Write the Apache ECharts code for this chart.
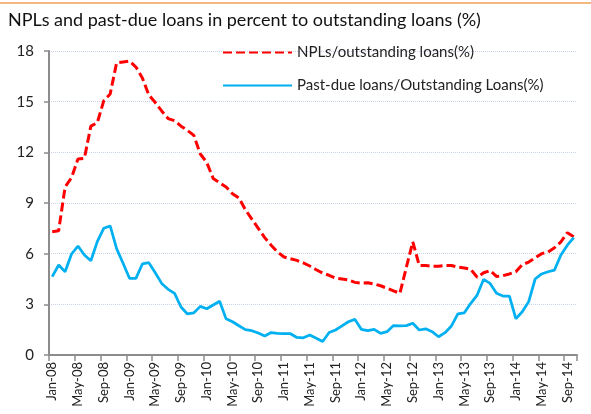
<!DOCTYPE html>
<html>
<head>
<meta charset="utf-8">
<script src="https://cdn.jsdelivr.net/npm/echarts@6/dist/echarts.min.js"></script>
<style>
html,body{margin:0;padding:0;background:#fff;}
#chart{width:591px;height:414px;}
</style>
</head>
<body>
<div id="chart"></div>
<script>
var titleText = 'NPLs and past-due loans in percent to outstanding loans (%)';
var categories = [
 'Jan-08','Feb-08','Mar-08','Apr-08','May-08','Jun-08','Jul-08','Aug-08','Sep-08','Oct-08','Nov-08','Dec-08',
 'Jan-09','Feb-09','Mar-09','Apr-09','May-09','Jun-09','Jul-09','Aug-09','Sep-09','Oct-09','Nov-09','Dec-09',
 'Jan-10','Feb-10','Mar-10','Apr-10','May-10','Jun-10','Jul-10','Aug-10','Sep-10','Oct-10','Nov-10','Dec-10',
 'Jan-11','Feb-11','Mar-11','Apr-11','May-11','Jun-11','Jul-11','Aug-11','Sep-11','Oct-11','Nov-11','Dec-11',
 'Jan-12','Feb-12','Mar-12','Apr-12','May-12','Jun-12','Jul-12','Aug-12','Sep-12','Oct-12','Nov-12','Dec-12',
 'Jan-13','Feb-13','Mar-13','Apr-13','May-13','Jun-13','Jul-13','Aug-13','Sep-13','Oct-13','Nov-13','Dec-13',
 'Jan-14','Feb-14','Mar-14','Apr-14','May-14','Jun-14','Jul-14','Aug-14','Sep-14','Oct-14'
];
var nplName = 'NPLs/outstanding loans(%)';
var nplValues = [
 7.3,7.36,9.95,10.5,11.6,11.65,13.55,13.75,15.05,15.45,17.3,17.35,
 17.4,17.05,16.4,15.4,14.95,14.45,14.0,13.87,13.55,13.3,13.0,11.9,
 11.4,10.45,10.2,9.95,9.55,9.3,8.6,8.05,7.5,6.95,6.5,6.1,
 5.8,5.7,5.6,5.45,5.27,5.05,4.85,4.72,4.55,4.5,4.44,4.3,
 4.26,4.28,4.2,4.1,3.95,3.8,3.65,5.2,6.7,5.3,5.3,5.25,
 5.25,5.3,5.3,5.2,5.15,5.07,4.6,4.87,5.0,4.65,4.7,4.8,
 4.93,5.35,5.5,5.75,6.0,6.1,6.35,6.7,7.24,7.0
];
var pastDueName = 'Past-due loans/Outstanding Loans(%)';
var pastDueValues = [
 4.64,5.33,4.93,5.98,6.45,5.92,5.58,6.71,7.5,7.64,6.3,5.43,
 4.54,4.54,5.39,5.47,4.87,4.24,3.89,3.65,2.84,2.43,2.5,2.88,
 2.74,2.96,3.18,2.14,1.97,1.73,1.5,1.44,1.3,1.13,1.33,1.28,
 1.26,1.26,1.04,1.02,1.18,0.99,0.8,1.33,1.48,1.72,1.97,2.11,
 1.52,1.44,1.52,1.28,1.38,1.74,1.72,1.74,1.88,1.48,1.55,1.38,
 1.08,1.32,1.72,2.43,2.5,3.06,3.55,4.48,4.24,3.65,3.49,3.49,
 2.15,2.56,3.16,4.5,4.8,4.93,5.03,5.92,6.5,6.95
];

var FONT = 'Lato';
var chart = echarts.init(document.getElementById('chart'), null, {renderer:'canvas'});
chart.setOption({
  animation: false,
  backgroundColor: '#ffffff',
  title: {
    text: titleText,
    left: 3, top: 6,
    textStyle: {fontFamily: FONT, fontSize: 18, fontWeight: 'normal', color: '#111'}
  },
  graphic: [
    {type:'line', shape:{x1:0,y1:3,x2:591,y2:3}, style:{stroke:'#f0a050', lineWidth:1.5}, silent:true}
  ],
  legend: {
    orient: 'vertical',
    left: 217, top: 40,
    itemWidth: 69, itemHeight: 16, itemGap: 18,
    itemStyle: {opacity: 0},
    textStyle: {fontFamily: FONT, fontSize: 15, color: '#222'},
    data: [nplName, pastDueName]
  },
  grid: {left: 49, right: 14, top: 51, bottom: 59, containLabel: false},
  xAxis: {
    type: 'category',
    data: categories,
    boundaryGap: true,
    axisLine: {lineStyle: {color: '#8c8c8c', width: 2}},
    axisTick: {show: true, interval: 3, length: 6, lineStyle: {color: '#8c8c8c', width: 1.5}},
    axisLabel: {interval: 3, rotate: 90, margin: 7, fontFamily: FONT, fontSize: 13, color: '#222'},
    splitLine: {show: false}
  },
  yAxis: {
    type: 'value',
    min: 0, max: 18, interval: 3,
    axisLine: {show: true, lineStyle: {color: '#8c8c8c', width: 2}},
    axisTick: {show: true, length: 5, lineStyle: {color: '#8c8c8c', width: 1.5}},
    axisLabel: {margin: 15, fontFamily: FONT, fontSize: 15, color: '#222'},
    splitLine: {show: true, lineStyle: {color: '#c8d4e6', type: 'dotted', width: 1}}
  },
  series: [
    {
      name: nplName, type: 'line', data: nplValues,
      symbol: 'none', smooth: false,
      lineStyle: {color: '#ff0000', width: 3, type: [9, 4]},
      itemStyle: {color: '#ff0000'}
    },
    {
      name: pastDueName, type: 'line', data: pastDueValues,
      symbol: 'none', smooth: false,
      lineStyle: {color: '#00b0f0', width: 2.75},
      itemStyle: {color: '#00b0f0'}
    }
  ]
});
</script>
</body>
</html>
